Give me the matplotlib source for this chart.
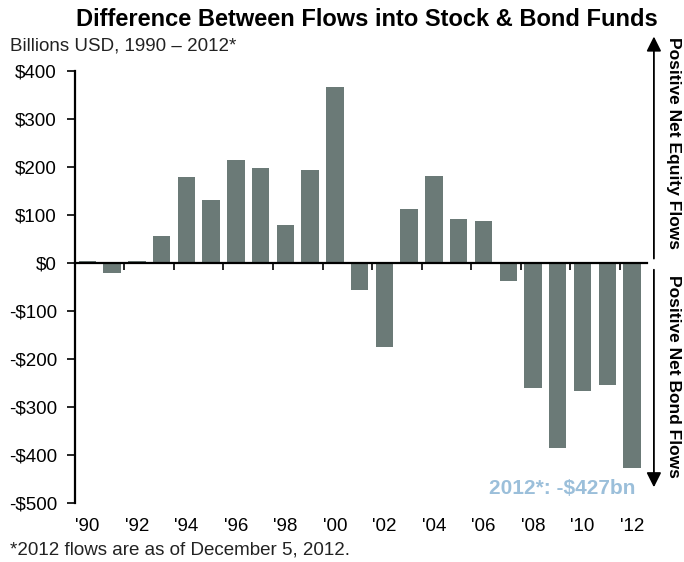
import numpy as np
import matplotlib.pyplot as plt

plt.rcParams['font.family'] = ['Liberation Sans', 'DejaVu Sans']

# Net flows: stock funds minus bond funds, billions USD
years = list(range(1990, 2013))
flows = [5, -20, 4, 56, 179, 131, 214, 198, 79, 194, 367, -56,
         -175, 112, 181, 92, 88, -37, -260, -385, -267, -254, -427]

yticks = [400, 300, 200, 100, 0, -100, -200, -300, -400, -500]
ytick_labels = ['$400', '$300', '$200', '$100', '$0', '-$100',
                '-$200', '-$300', '-$400', '-$500']
label_years = years[::2]
xtick_labels = ["'%02d" % (y % 100) for y in label_years]

bar_color = '#6b7a77'

fig = plt.figure(figsize=(6.84, 5.62), dpi=100)
ax = fig.add_axes([0.1096, 0.105, 0.836, 0.7687])

ax.bar(years, flows, width=0.7, color=bar_color, zorder=2)

ax.set_xlim(1989.5, 2012.6)
ax.set_ylim(-500, 400)
ax.set_yticks(yticks)
ax.set_yticklabels(ytick_labels, fontsize=13.5)
ax.tick_params(axis='y', direction='out', length=6, width=1.2, pad=7)

for s in ['top', 'right']:
    ax.spines[s].set_visible(False)
ax.spines['left'].set_linewidth(1.6)
ax.spines['bottom'].set_position(('data', 0))
ax.spines['bottom'].set_linewidth(1.6)
ax.spines['bottom'].set_zorder(3)
ax.set_xticks([y + 0.5 for y in years[1:-1:2]])
ax.set_xticklabels([])
ax.tick_params(axis='x', direction='out', length=5, width=1.2)

sec = ax.secondary_xaxis('bottom')
sec.set_xticks(label_years)
sec.set_xticklabels(xtick_labels, fontsize=13.5)
sec.tick_params(length=0, pad=11)
sec.spines['bottom'].set_visible(False)

fig.text(0.536, 0.966, 'Difference Between Flows into Stock & Bond Funds',
         ha='center', va='center', fontsize=17, fontweight='bold')
fig.text(0.014, 0.918, 'Billions USD, 1990 \u2013 2012*', ha='left',
         va='center', fontsize=13.5, color='#222222')
fig.text(0.014, 0.021, '*2012 flows are as of December 5, 2012.',
         ha='left', va='center', fontsize=13.5, color='#222222')

ax.text(2012.15, -470, '2012*: -$427bn', ha='right', va='center',
        fontsize=15, fontweight='bold', color='#9bbfda')

# right side arrows
fig.add_artist(plt.Annotation('', xy=(0.956, 0.94), xytext=(0.956, 0.535),
                              xycoords='figure fraction',
                              arrowprops=dict(arrowstyle='-|>', color='black',
                                              lw=1.3, mutation_scale=22)))
fig.add_artist(plt.Annotation('', xy=(0.956, 0.128), xytext=(0.956, 0.525),
                              xycoords='figure fraction',
                              arrowprops=dict(arrowstyle='-|>', color='black',
                                              lw=1.3, mutation_scale=22)))
fig.text(0.985, 0.745, 'Positive Net Equity Flows', rotation=-90,
         ha='center', va='center', fontsize=12.5, fontweight='bold')
fig.text(0.985, 0.33, 'Positive Net Bond Flows', rotation=-90,
         ha='center', va='center', fontsize=12.5, fontweight='bold')

fig.savefig('out.png', dpi=100)
